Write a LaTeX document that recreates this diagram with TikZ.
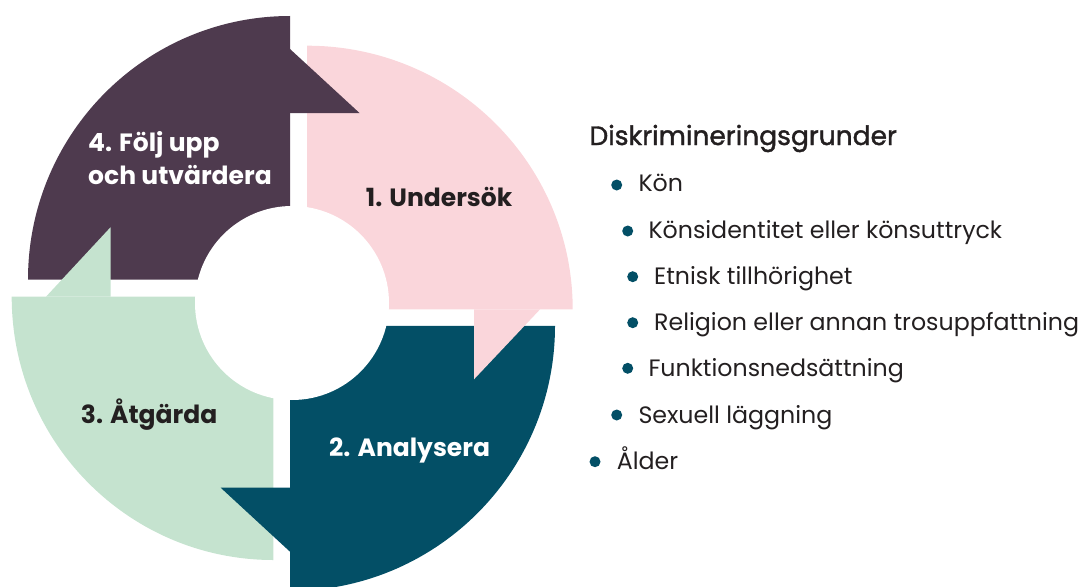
\documentclass[tikz,border=0pt]{standalone}
\usepackage{fontspec}
\setmainfont{Poppins}
\newfontfamily\headfont[FakeBold=1.4]{Poppins}
\usetikzlibrary{positioning}
\definecolor{plum}{HTML}{4E3A4E}
\definecolor{rose}{HTML}{FAD6DB}
\definecolor{petrol}{HTML}{034F66}
\definecolor{mint}{HTML}{C5E3CF}
\definecolor{ink}{HTML}{231F20}
\tikzset{
    steplabel/.style = {anchor=base west, inner sep=0pt, align=left, font=\fontsize{25}{32.3}\selectfont\bfseries},
    listitem/.style = {anchor=base west, inner sep=0pt, text=ink, font=\fontsize{23.7}{28}\selectfont},
    listhead/.style = {anchor=base west, inner sep=0pt, text=ink, font=\fontsize{26.5}{30}\headfont},
    dot/.style = {circle, fill=petrol, inner sep=0pt, minimum size=11pt}
}
\begin{document}
\begin{tikzpicture}[x=1pt,y=-1pt]
\useasboundingbox (0,0) rectangle (1083,586);
\clip (0,0) rectangle (1083,586);
%
% quarter rings
\fill[rose] (307,309.4) -- (307,45.7) arc[start angle=270, end angle=360, x radius=265.7, y radius=263.7] -- cycle;
\fill[petrol] (290,325.9) -- (555,325.9) arc[start angle=0, end angle=90, radius=265] -- cycle;
\fill[mint] (273.3,296.7) -- (273.3,560) arc[start angle=90, end angle=180, x radius=261.6, y radius=263.3] -- cycle;
\fill[plum] (290,279.5) -- (28,279.5) arc[start angle=180, end angle=270, x radius=262, y radius=263.5] -- cycle;
%
% arrow heads
\fill[plum] (290,49) -- (359.5,113) -- (290,113) -- cycle;
\fill[rose] (540,309.4) -- (474,379.3) -- (474,309.4) -- cycle;
\fill[petrol] (290,487.7) -- (220.7,487.7) -- (290,551.7) -- cycle;
\fill[mint] (46,296.7) -- (110.5,227.3) -- (110.5,296.7) -- cycle;
%
\fill[white] (292,303) circle[radius=97];
%
\node[steplabel,text=ink] (undersok) at (365.7,206.7) {1. Undersök};
\node[steplabel,text=white] (analysera) at (329,456.7) {2. Analysera};
\node[steplabel,text=ink] (atgarda) at (80.7,423.3) {3. Åtgärda};
\node[steplabel,text=white] (folj) at (88,184) {4. Följ upp\\och utvärdera};
%
\node[listhead] (grunder) at (589.3,145) {Diskrimineringsgrunder};
\node[dot] (d1) at (616.7,185) {};
\node[listitem] (kon) at (638.3,191.7) {Kön};
\node[dot] (d2) at (627.7,231) {};
\node[listitem] (identitet) at (648.3,238.3) {Könsidentitet eller könsuttryck};
\node[dot] (d3) at (632.7,276.7) {};
\node[listitem] (etnisk) at (654,284) {Etnisk tillhörighet};
\node[dot] (d4) at (632.7,322.7) {};
\node[listitem] (religion) at (654,330) {Religion eller annan trosuppfattning};
\node[dot] (d5) at (627.7,368.3) {};
\node[listitem] (funktion) at (648.3,376) {Funktionsnedsättning};
\node[dot] (d6) at (616.7,415) {};
\node[listitem] (sexuell) at (638.3,423.3) {Sexuell läggning};
\node[dot] (d7) at (595,461.7) {};
\node[listitem] (alder) at (616.7,469.3) {Ålder};

\end{tikzpicture}
\end{document}
